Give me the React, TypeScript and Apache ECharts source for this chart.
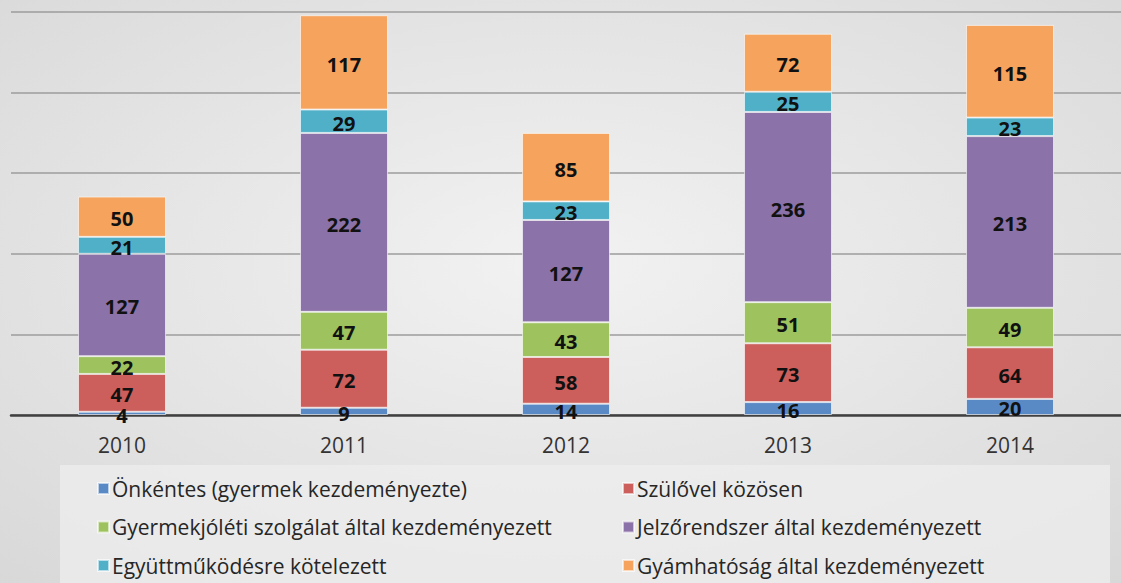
import React, { useEffect, useRef } from "react";
import * as echarts from "echarts";

const years = ["2010", "2011", "2012", "2013", "2014"];
const seriesNames = [
  "Önkéntes (gyermek kezdeményezte)",
  "Szülővel közösen",
  "Gyermekjóléti szolgálat által kezdeményezett",
  "Jelzőrendszer által kezdeményezett",
  "Együttműködésre kötelezett",
  "Gyámhatóság által kezdeményezett",
];
const onkentes = [4, 9, 14, 16, 20];
const szulovel = [47, 72, 58, 73, 64];
const gyermekjoleti = [22, 47, 43, 51, 49];
const jelzorendszer = [127, 222, 127, 236, 213];
const egyuttmukodes = [21, 29, 23, 25, 23];
const gyamhatosag = [50, 117, 85, 72, 115];
const seriesData = [onkentes, szulovel, gyermekjoleti, jelzorendszer, egyuttmukodes, gyamhatosag];
const colors = ["#5A8AC6", "#CC5F5C", "#9DC25E", "#8B72A8", "#4FB0C8", "#F6A35E"];
const FONT = "Open Sans";

export default function App() {
  const ref = useRef<HTMLDivElement>(null);
  useEffect(() => {
    if (!ref.current) return;
    const chart = echarts.init(ref.current, null, { renderer: "svg" });
    const legendText = { color: "#262626", fontSize: 21, fontFamily: FONT, padding: [0, 0, 0, -2] };
    chart.setOption({
      animation: false,
      backgroundColor: {
        type: "radial",
        x: 0.5,
        y: 0.45,
        r: 0.75,
        colorStops: [
          { offset: 0, color: "#f2f2f2" },
          { offset: 1, color: "#d8d8d8" },
        ],
      },
      textStyle: { fontFamily: FONT },
      grid: { left: 11, top: 12, width: 1122, bottom: 168, containLabel: false },
      xAxis: {
        type: "category",
        data: years,
        axisLine: { lineStyle: { color: "#404040", width: 2.5 } },
        axisTick: { show: false },
        axisLabel: { color: "#333", fontSize: 21, fontFamily: FONT, margin: 19 },
      },
      yAxis: {
        type: "value",
        min: 0,
        max: 500,
        interval: 100,
        axisLabel: { show: false },
        axisLine: { show: false },
        axisTick: { show: false },
        splitLine: { lineStyle: { color: "#9c9c9c", width: 1.5 } },
      },
      graphic: [
        {
          type: "rect",
          z: -1,
          shape: { x: 60, y: 465, width: 1050, height: 130 },
          style: { fill: "rgba(238,238,238,0.75)" },
        },
      ],
      legend: [
        {
          data: [seriesNames[0], seriesNames[2], seriesNames[4]],
          orient: "vertical",
          left: 92,
          top: 473,
          itemWidth: 11,
          itemHeight: 11,
          itemGap: 17.5,
          icon: "rect",
          textStyle: legendText,
        },
        {
          data: [seriesNames[1], seriesNames[3], seriesNames[5]],
          orient: "vertical",
          left: 617,
          top: 473,
          itemWidth: 11,
          itemHeight: 11,
          itemGap: 17.5,
          icon: "rect",
          textStyle: legendText,
        },
      ],
      series: seriesNames.map((name, i) => ({
        name,
        type: "bar",
        stack: "total",
        barWidth: 88,
        data: seriesData[i],
        itemStyle: { color: colors[i], borderColor: "rgba(255,255,255,0.6)", borderWidth: 1 },
        label: {
          show: true,
          position: "inside",
          color: "#111",
          fontWeight: "bold",
          fontSize: 20,
          fontFamily: FONT,
          offset: [0, 2],
        },
      })),
    });
    return () => chart.dispose();
  }, []);
  return (
    <div
      ref={ref}
      style={{ position: "absolute", left: 0, top: 0, width: 1121, height: 583 }}
    />
  );
}
